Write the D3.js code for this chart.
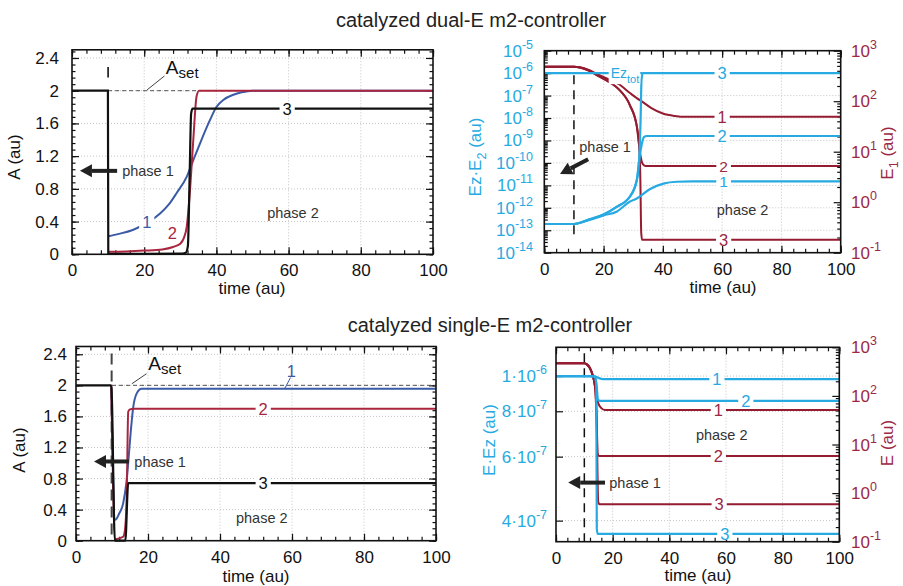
<!DOCTYPE html>
<html>
<head>
<meta charset="utf-8">
<script src="https://cdn.jsdelivr.net/npm/d3@7"></script>
<style>
  body { margin: 0; background: #fff; }
  svg { display: block; }
  text { font-family: "Liberation Sans", Arial, sans-serif; }
</style>
</head>
<body>
<svg id="fig" width="903" height="586"></svg>
<script>
// ------------------------------------------------------
// DATA  (time in au)
// ------------------------------------------------------

// dual-E, A(t)  -- curves 1 (blue), 2 (red), 3 (black)
var dualA1 = [[10,0.22],[13,0.25],[17,0.3],[21,0.39],[24.4,0.5],[27,0.62],[29,0.75],[31.8,0.95],[33.5,1.14],[35.5,1.36],[38.2,1.64],[40,1.8],[42,1.89],[44.7,1.95],[47,1.98],[50,2.0],[100,2.0]];
var dualA2 = [[10,0.03],[15,0.035],[20,0.045],[25,0.06],[28,0.09],[30,0.13],[31,0.2],[31.8,0.34],[32.7,0.79],[33.6,1.4],[34.5,1.93],[35.2,2.0],[100,2.0]];
var dualA3 = [[0,2],[9.95,2],[10.05,0.01],[20,0.005],[30,0.008],[31.5,0.02],[32.1,0.1],[32.6,0.99],[33,1.72],[33.4,1.78],[100,1.78]];

// dual-E, Ez*E2 (left, log) and E1 (right, log)
var dualEz1 = [[0,1.9e-13],[10,1.9e-13],[15,2.8e-13],[20,4.6e-13],[24.4,6.7e-13],[28.9,1.9e-12],[31.2,2.6e-12],[35.7,6.9e-12],[40.2,1.2e-11],[44.7,1.45e-11],[50,1.5e-11],[100,1.5e-11]];
var dualEz2 = [[0,1.9e-13],[10,1.9e-13],[15,3e-13],[20,5e-13],[24.4,1.1e-12],[28.9,3.2e-12],[31.2,1.7e-11],[32,1.3e-10],[32.8,6e-10],[33.6,1.4e-9],[34.6,1.58e-9],[100,1.58e-9]];
var dualEz3 = [[0,1.9e-13],[10,1.9e-13],[15,3e-13],[20,5e-13],[24.4,1.1e-12],[28.9,3.2e-12],[31.2,1.7e-11],[32,1.3e-10],[32.5,1e-8],[32.8,5e-7],[33.2,1e-6],[100,1e-6]];
var dualEzTot = [[0,1e-6],[33,1e-6]];
var dualE1a = [[0,480],[10,480],[12,468],[15,415],[18,340],[22.2,263],[25,220],[28.9,145],[31.2,115],[33,98],[36,74],[40,57],[44,51],[48,49],[100,49]];
var dualE1b = [[0,480],[10,480],[12,465],[15,405],[18,320],[22.2,234],[25,175],[28.9,83],[31.2,32],[32,13],[32.6,7.5],[33.3,5.6],[34.2,5.2],[100,5.2]];
var dualE1c = [[0,480],[10,480],[12,465],[15,405],[18,320],[22.2,234],[25,175],[28.9,83],[31.2,32],[32,13],[32.4,3],[32.7,0.25],[33,0.18],[100,0.18]];

// single-E, A(t)
var singleA1 = [[9.8,2],[10.9,0.27],[12,0.35],[13.1,0.48],[14,0.75],[14.5,1.0],[15.2,1.4],[15.9,1.72],[16.9,1.9],[18.2,1.957],[100,1.957]];
var singleA2 = [[9.8,2],[10.9,0.02],[12,0.03],[13.1,0.05],[13.6,0.14],[14.1,0.6],[14.5,1.66],[15,1.69],[16,1.70],[100,1.70]];
var singleA3 = [[0,2],[9.8,2],[10.8,0],[13.7,0],[14.5,0.74],[100,0.74]];

// single-E, E*Ez (left, log) and E (right, log)
var singleEz1 = [[0,1e-6],[12,1e-6],[13.8,9.97e-7],[15,9.88e-7],[16.6,9.81e-7],[100,9.81e-7]];
var singleEz2 = [[0,1e-6],[12,1e-6],[13.8,9.97e-7],[14.4,9.3e-7],[14.8,8.6e-7],[15.6,8.55e-7],[100,8.55e-7]];
var singleEz3 = [[0,1e-6],[12,1e-6],[13.8,9.97e-7],[14.2,9.5e-7],[14.4,3.8e-7],[14.7,3.68e-7],[100,3.68e-7]];
var singleE1 = [[0,468],[10,468],[11,440],[12,372],[13,260],[13.8,160],[14.9,71],[16,56],[17.3,51.3],[19,51],[100,51]];
var singleE2 = [[0,468],[10,468],[11,440],[12,372],[13,260],[13.8,150],[14.3,50],[14.7,6.5],[15.2,5.8],[100,5.8]];
var singleE3 = [[0,468],[10,468],[11,440],[12,372],[13,260],[13.8,150],[14.4,20],[14.9,0.65],[15.4,0.59],[100,0.59]];

// ticks
var timeTicks = [0, 20, 40, 60, 80, 100];
var aTicks = [0, 0.4, 0.8, 1.2, 1.6, 2, 2.4];
var ezDecades = [-14, -13, -12, -11, -10, -9, -8, -7, -6, -5];
var eDecades = [-1, 0, 1, 2, 3];
var eezTicks = [4e-7, 6e-7, 8e-7, 1e-6];
var eezTickLabels = ["4·10", "6·10", "8·10", "1·10"];
var eezTickExp = ["-7", "-7", "-7", "-6"];

// ------------------------------------------------------
// STYLE
// ------------------------------------------------------
var CYAN = "#27aae1", WINE = "#951b30", WINE_T = "#9b2944", BLUE = "#3b5ba6", RED = "#a9263e", BLK = "#111", GRAY = "#333";
var FONT = "'Liberation Sans', Arial, sans-serif";
var TITLE_FONT = "'Open Sans', 'Noto Sans', sans-serif";

var svg = d3.select("#fig");

function minorRange(a, b, s) { return d3.range(a, b + 1e-9, s); }
function logMinor(decs) {
  var out = [];
  decs.slice(0, -1).forEach(function (e) {
    for (var m = 2; m <= 9; m++) out.push(m * Math.pow(10, e));
  });
  return out;
}

function styleAxis(sel, color) {
  sel.select(".domain").remove();
  sel.selectAll("line").attr("stroke", BLK).attr("stroke-width", 1.2);
  sel.selectAll("text").attr("font-size", 17).attr("font-family", FONT).attr("fill", color || BLK);
}

// frame, grid and ticks on all four sides
function frame(g, x, yL, yR, o) {
  var x0 = x.range()[0], x1 = x.range()[1];
  var yb = yL.range()[0], yt = yL.range()[1];

  g.append("g").selectAll("line").data(o.xGrid).join("line")
    .attr("x1", function (d) { return x(d); }).attr("x2", function (d) { return x(d); })
    .attr("y1", yb).attr("y2", yt)
    .attr("stroke", "#c4c4c4").attr("stroke-dasharray", "1,2");
  g.append("g").selectAll("line").data(o.yGrid).join("line")
    .attr("y1", function (d) { return yL(d); }).attr("y2", function (d) { return yL(d); })
    .attr("x1", x0).attr("x2", x1)
    .attr("stroke", "#c4c4c4").attr("stroke-dasharray", "1,2");

  g.append("g").attr("transform", "translate(0," + yb + ")")
    .call(d3.axisBottom(x).tickValues(timeTicks).tickSize(-7).tickPadding(10).tickFormat(d3.format("d")))
    .call(styleAxis);
  g.append("g").attr("transform", "translate(0," + yb + ")")
    .call(d3.axisBottom(x).tickValues(o.xMinor).tickSize(-4).tickFormat("")).call(styleAxis);
  g.append("g").attr("transform", "translate(0," + yt + ")")
    .call(d3.axisTop(x).tickValues(timeTicks).tickSize(-7).tickFormat("")).call(styleAxis);
  g.append("g").attr("transform", "translate(0," + yt + ")")
    .call(d3.axisTop(x).tickValues(o.xMinor).tickSize(-4).tickFormat("")).call(styleAxis);

  g.append("g").attr("transform", "translate(" + x0 + ",0)")
    .call(d3.axisLeft(yL).tickValues(o.yMajor).tickSize(-7).tickPadding(o.padL).tickFormat(o.fmtL || ""))
    .call(styleAxis);
  g.append("g").attr("transform", "translate(" + x0 + ",0)")
    .call(d3.axisLeft(yL).tickValues(o.yMinor).tickSize(-3.5).tickFormat("")).call(styleAxis);
  g.append("g").attr("transform", "translate(" + x1 + ",0)")
    .call(d3.axisRight(yR).tickValues(o.yRMajor).tickSize(-7).tickFormat("")).call(styleAxis);
  g.append("g").attr("transform", "translate(" + x1 + ",0)")
    .call(d3.axisRight(yR).tickValues(o.yRMinor).tickSize(-3.5).tickFormat("")).call(styleAxis);
}

function border(g, x, y) {
  g.append("rect")
    .attr("x", x.range()[0]).attr("y", y.range()[1])
    .attr("width", x.range()[1] - x.range()[0]).attr("height", y.range()[0] - y.range()[1])
    .attr("fill", "none").attr("stroke", BLK).attr("stroke-width", 1.6);
}

function curve(g, data, x, y, color, w) {
  g.append("path").datum(data)
    .attr("d", d3.line().x(function (d) { return x(d[0]); }).y(function (d) { return y(d[1]); }).curve(d3.curveMonotoneX))
    .attr("fill", "none").attr("stroke", color).attr("stroke-width", w || 2);
}

function lineLabel(g, px, py, str, color, bg, fs) {
  var t = g.append("text").attr("x", px).attr("y", py).attr("dy", "0.36em")
    .attr("text-anchor", "middle").attr("font-size", fs || 16.5).attr("fill", color).text(str);
  if (bg !== false) {
    var b = t.node().getBBox();
    g.insert("rect", function () { return t.node(); })
      .attr("x", b.x - 3).attr("y", b.y + 3).attr("width", b.width + 6).attr("height", b.height - 6)
      .attr("fill", "#fff");
  }
}

function powLabel(g, px, py, base, exp, anchor, color) {
  var t = g.append("text").attr("x", px).attr("y", py + 6).attr("text-anchor", anchor)
    .attr("fill", color).attr("font-size", 17);
  t.append("tspan").text(base);
  t.append("tspan").attr("dy", -8).attr("font-size", 12.5).text(exp);
}

function arrow(g, xa, ya, xb, yb) {
  // thick arrow pointing from (xa,ya) to (xb,yb)
  var ang = Math.atan2(yb - ya, xb - xa), L = 12, W = 6.5;
  var bx = xb - L * Math.cos(ang), by = yb - L * Math.sin(ang);
  g.append("line").attr("x1", xa).attr("y1", ya).attr("x2", bx).attr("y2", by)
    .attr("stroke", "#222").attr("stroke-width", 4);
  g.append("path")
    .attr("d", "M" + xb + "," + yb +
      "L" + (bx - W * Math.sin(ang)) + "," + (by + W * Math.cos(ang)) +
      "L" + (bx + W * Math.sin(ang)) + "," + (by - W * Math.cos(ang)) + "Z")
    .attr("fill", "#222");
}

function note(g, px, py, str, anchor) {
  g.append("text").attr("x", px).attr("y", py).attr("dy", "0.35em")
    .attr("text-anchor", anchor || "start").attr("font-size", 14.5).attr("fill", GRAY).text(str);
}

function yTitle(g, px, py, parts, color) {
  var t = g.append("text").attr("transform", "translate(" + px + "," + py + ") rotate(-90)")
    .attr("text-anchor", "middle").attr("font-size", 17).attr("fill", color);
  parts.forEach(function (p) {
    var s = t.append("tspan").text(p[0]);
    if (p[1]) s.attr("dy", p[1]).attr("font-size", p[2] || 12.5);
  });
}

function xTitle(g, px, py) {
  g.append("text").attr("x", px).attr("y", py).attr("text-anchor", "middle")
    .attr("font-size", 17).attr("fill", BLK).text("time (au)");
}

function aset(g, x1, y1, x2, y2, tx, ty) {
  g.append("line").attr("x1", x1).attr("y1", y1).attr("x2", x2).attr("y2", y2)
    .attr("stroke", BLK).attr("stroke-width", 0.8);
  var t = g.append("text").attr("x", tx).attr("y", ty).attr("font-size", 19).attr("fill", BLK);
  t.append("tspan").text("A");
  t.append("tspan").attr("dy", 4).attr("font-size", 15).text("set");
}

// ------------------------------------------------------
// TITLES
// ------------------------------------------------------
svg.append("text").attr("x", 471).attr("y", 27).attr("text-anchor", "middle")
  .attr("font-family", TITLE_FONT).attr("font-size", 20).attr("fill", "#222")
  .text("catalyzed dual-E m2-controller");
svg.append("text").attr("x", 490).attr("y", 332).attr("text-anchor", "middle")
  .attr("font-family", TITLE_FONT).attr("font-size", 20).attr("fill", "#222")
  .text("catalyzed single-E m2-controller");

// ------------------------------------------------------
// PANEL A : dual-E, A(t)
// ------------------------------------------------------
(function () {
  var g = svg.append("g");
  var x = d3.scaleLinear().domain([0, 100]).range([72, 433]);
  var y = d3.scaleLinear().domain([0, 2.5]).range([254.3, 49.8]);
  frame(g, x, y, y, {
    xGrid: [20, 40, 60, 80], yGrid: [0.4, 0.8, 1.2, 1.6, 2, 2.4],
    xMinor: minorRange(0, 100, 4), yMajor: aTicks, yMinor: minorRange(0, 2.5, 0.08),
    yRMajor: aTicks, yRMinor: minorRange(0, 2.5, 0.08), padL: 13, fmtL: d3.format("~g")
  });
  // A_set reference
  g.append("line").attr("x1", x(10)).attr("x2", x(100)).attr("y1", y(2)).attr("y2", y(2))
    .attr("stroke", "#555").attr("stroke-width", 1).attr("stroke-dasharray", "4,3");
  g.append("line").attr("x1", x(10)).attr("x2", x(10)).attr("y1", y(2.16)).attr("y2", y(2.29))
    .attr("stroke", BLK).attr("stroke-width", 1.6);
  curve(g, dualA1, x, y, BLUE);
  curve(g, dualA2, x, y, RED);
  curve(g, dualA3, x, y, BLK, 2.2);
  border(g, x, y);
  lineLabel(g, x(59.6), y(1.78), "3", BLK);
  lineLabel(g, x(20.7), y(0.39), "1", BLUE);
  lineLabel(g, x(27.8), y(0.26), "2", RED, false);
  aset(g, x(20.8), y(2.01), x(25.6), y(2.18), x(26), y(2.2));
  arrow(g, x(12.5), y(1.02), x(2.2), y(1.02));
  note(g, x(13.9), y(1.02), "phase 1");
  note(g, x(61.2), y(0.51), "phase 2", "middle");
  yTitle(g, 20, 157, [["A (au)"]], BLK);
  xTitle(g, 252, 294);
})();

// ------------------------------------------------------
// PANEL B : dual-E, Ez*E2 and E1
// ------------------------------------------------------
(function () {
  var g = svg.append("g");
  var x = d3.scaleLinear().domain([0, 100]).range([544.3, 840.7]);
  var yL = d3.scaleLog().domain([1e-14, 1e-5]).range([252.7, 50.7]);
  var yR = d3.scaleLog().domain([0.1, 1000]).range([252.7, 50.7]);
  var decL = ezDecades.map(function (e) { return Math.pow(10, e); });
  var decR = eDecades.map(function (e) { return Math.pow(10, e); });
  frame(g, x, yL, yR, {
    xGrid: [20, 40, 60, 80], yGrid: decL.slice(1, -1),
    xMinor: minorRange(0, 100, 4), yMajor: decL, yMinor: logMinor(ezDecades),
    yRMajor: decR, yRMinor: logMinor(eDecades), padL: 11
  });
  ezDecades.forEach(function (e) { powLabel(g, 533, yL(Math.pow(10, e)), "10", String(e), "end", CYAN); });
  eDecades.forEach(function (e) { powLabel(g, 851, yR(Math.pow(10, e)), "10", String(e), "start", WINE_T); });

  g.append("line").attr("x1", x(10)).attr("x2", x(10)).attr("y1", yL(1e-6) + 2).attr("y2", yL(5e-14))
    .attr("stroke", BLK).attr("stroke-width", 1.5).attr("stroke-dasharray", "9,6");

  curve(g, dualE1a, x, yR, WINE);
  curve(g, dualE1b, x, yR, WINE);
  curve(g, dualE1c, x, yR, WINE);
  curve(g, dualEzTot, x, yL, CYAN, 2.2);
  curve(g, dualEz1, x, yL, CYAN, 2.2);
  curve(g, dualEz2, x, yL, CYAN, 2.2);
  curve(g, dualEz3, x, yL, CYAN, 2.2);
  border(g, x, yL);

  // Ez_tot label
  var t = g.append("text").attr("x", x(22.4)).attr("y", yL(1e-6) + 5).attr("font-size", 14).attr("fill", CYAN);
  t.append("tspan").text("Ez");
  t.append("tspan").attr("dy", 5).attr("font-size", 11).text("tot");
  var b = t.node().getBBox();
  g.insert("rect", function () { return t.node(); })
    .attr("x", b.x - 2).attr("y", b.y + 1).attr("width", b.width + 3).attr("height", b.height - 2).attr("fill", "#fff");

  lineLabel(g, x(60), yL(1e-6), "3", CYAN);
  lineLabel(g, x(60), yL(1.58e-9), "2", CYAN);
  lineLabel(g, x(60.5), yL(1.5e-11), "1", CYAN, true, 15.5);
  lineLabel(g, x(60), yR(49), "1", WINE_T);
  lineLabel(g, x(60.5), yR(5.2), "2", WINE_T, true, 15.5);
  lineLabel(g, x(60.5), yR(0.18), "3", WINE_T);

  arrow(g, x(14.8), yL(Math.pow(10, -9.84)), x(5.3), yL(Math.pow(10, -10.49)));
  note(g, x(11.8), yL(Math.pow(10, -9.28)), "phase 1");
  note(g, x(66.9), yL(Math.pow(10, -12.1)), "phase 2", "middle");

  yTitle(g, 481, 157, [["Ez·E"], ["2", 5], [" (au)", -5, 17]], CYAN);
  yTitle(g, 893, 153, [["E"], ["1", 5], [" (au)", -5, 17]], WINE_T);
  xTitle(g, 723, 293);
})();

// ------------------------------------------------------
// PANEL C : single-E, A(t)
// ------------------------------------------------------
(function () {
  var g = svg.append("g");
  var x = d3.scaleLinear().domain([0, 100]).range([76, 436]);
  var y = d3.scaleLinear().domain([0, 2.5]).range([540.7, 346.5]);
  frame(g, x, y, y, {
    xGrid: [20, 40, 60, 80], yGrid: [0.4, 0.8, 1.2, 1.6, 2, 2.4],
    xMinor: minorRange(0, 100, 4), yMajor: aTicks, yMinor: minorRange(0, 2.5, 0.08),
    yRMajor: aTicks, yRMinor: minorRange(0, 2.5, 0.08), padL: 9, fmtL: d3.format("~g")
  });
  g.append("line").attr("x1", x(10)).attr("x2", x(100)).attr("y1", y(2)).attr("y2", y(2))
    .attr("stroke", "#555").attr("stroke-width", 1).attr("stroke-dasharray", "4,3");
  curve(g, singleA1, x, y, BLUE);
  curve(g, singleA2, x, y, RED);
  g.append("line").attr("x1", x(9.9)).attr("x2", x(9.9)).attr("y1", y(2.41)).attr("y2", y(0))
    .attr("stroke", "#444").attr("stroke-width", 2).attr("stroke-dasharray", "11,6");
  curve(g, singleA3, x, y, BLK, 2.2);
  border(g, x, y);

  lineLabel(g, x(52), y(1.70), "2", RED);
  lineLabel(g, x(52), y(0.74), "3", BLK);
  g.append("line").attr("x1", x(58)).attr("y1", y(1.96)).attr("x2", x(59.6)).attr("y2", y(2.1))
    .attr("stroke", BLUE).attr("stroke-width", 1);
  lineLabel(g, x(59.8), y(2.19), "1", BLUE, false);
  aset(g, x(15.5), y(2.02), x(19.6), y(2.15), x(20.1), y(2.2));
  arrow(g, x(14.7), y(1.02), x(5), y(1.02));
  note(g, x(16.2), y(1.02), "phase 1");
  note(g, x(51.6), y(0.29), "phase 2", "middle");
  yTitle(g, 25, 450, [["A (au)"]], BLK);
  xTitle(g, 256, 582);
})();

// ------------------------------------------------------
// PANEL D : single-E, E*Ez and E
// ------------------------------------------------------
(function () {
  var g = svg.append("g");
  var x = d3.scaleLinear().domain([0, 100]).range([556, 839.3]);
  var yL = d3.scaleLog().domain([3.5e-7, 1.2e-6]).range([541.7, 347.3]);
  var yR = d3.scaleLog().domain([0.1, 1000]).range([541.7, 347.3]);
  var decR = eDecades.map(function (e) { return Math.pow(10, e); });
  frame(g, x, yL, yR, {
    xGrid: [20, 40, 60, 80], yGrid: eezTicks,
    xMinor: minorRange(0, 100, 4), yMajor: eezTicks, yMinor: [],
    yRMajor: decR, yRMinor: logMinor(eDecades), padL: 9
  });
  eezTicks.forEach(function (v, i) { powLabel(g, 547, yL(v), eezTickLabels[i], eezTickExp[i], "end", CYAN); });
  eDecades.forEach(function (e) { powLabel(g, 851, yR(Math.pow(10, e)), "10", String(e), "start", WINE_T); });

  g.append("line").attr("x1", x(10)).attr("x2", x(10)).attr("y1", yL(1.155e-6)).attr("y2", yL(3.5e-7))
    .attr("stroke", BLK).attr("stroke-width", 1.5).attr("stroke-dasharray", "9,6");

  curve(g, singleE1, x, yR, WINE);
  curve(g, singleE2, x, yR, WINE);
  curve(g, singleE3, x, yR, WINE);
  curve(g, singleEz1, x, yL, CYAN, 2.2);
  curve(g, singleEz2, x, yL, CYAN, 2.2);
  curve(g, singleEz3, x, yL, CYAN, 2.2);
  border(g, x, yL);

  lineLabel(g, x(56.8), yL(9.81e-7), "1", CYAN);
  lineLabel(g, x(67), yL(8.55e-7), "2", CYAN);
  lineLabel(g, x(59.6), yL(3.68e-7), "3", CYAN);
  lineLabel(g, x(57.3), yR(51), "1", WINE_T);
  lineLabel(g, x(57.3), yR(5.8), "2", WINE_T);
  lineLabel(g, x(57.6), yR(0.59), "3", WINE_T);

  arrow(g, x(17.3), yL(5.09e-7), x(4.3), yL(5.09e-7));
  note(g, x(18.8), yL(5.09e-7), "phase 1");
  note(g, x(58.5), yL(6.88e-7), "phase 2", "middle");

  yTitle(g, 495, 440, [["E·Ez (au)"]], CYAN);
  yTitle(g, 893, 443, [["E (au)"]], WINE_T);
  xTitle(g, 698, 581);
})();
</script>
</body>
</html>
